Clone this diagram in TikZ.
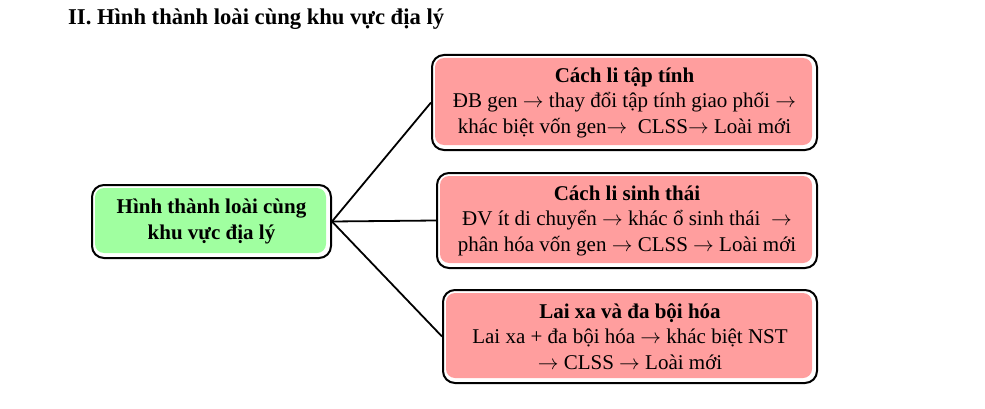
\documentclass[tikz,border=0pt]{standalone}
\usepackage{fontspec}
\setmainfont{Liberation Serif}
\usetikzlibrary{backgrounds}
\definecolor{boxpink}{RGB}{255,158,158}
\definecolor{boxgreen}{RGB}{160,255,160}
\newcommand{\ar}{\ensuremath{\rightarrow}}
\tikzset{
  outerbox/.style={draw=black, line width=2pt, rounded corners=12pt,
    align=center, inner sep=0pt, font=\fontsize{21}{25.5}\selectfont},
  conn/.style={draw=black, line width=1.8pt},
}
\begin{document}
\begin{tikzpicture}[x=1pt,y=1pt]
\useasboundingbox (0,0) rectangle (985,408);
\node[anchor=base west, font=\bfseries\fontsize{22.6}{26}\selectfont, inner sep=0pt] (title) at (68,383) {II. Hình thành loài cùng khu vực địa lý};

\node[outerbox, minimum width=239pt, minimum height=73pt] (g) at (211.5,186.5)
  {\textbf{Hình thành loài cùng}\\\textbf{khu vực địa lý}};
\node[outerbox, minimum width=385pt, minimum height=95pt] (b1) at (624.5,305.5)
  {\textbf{Cách li tập tính}\\ĐB gen \ar{} thay đổi tập tính giao phối \ar\\khác biệt vốn gen\ar\ \ CLSS\ar{} Loài mới};
\node[outerbox, minimum width=380pt, minimum height=95pt] (b2) at (627,187.5)
  {\textbf{Cách li sinh thái}\\ĐV ít di chuyển \ar{} khác ổ sinh thái\ \ \ar\\phân hóa vốn gen \ar{} CLSS \ar{} Loài mới};
\node[outerbox, minimum width=374pt, minimum height=93pt] (b3) at (630,71.5)
  {\textbf{Lai xa và đa bội hóa}\\Lai xa + đa bội hóa \ar{} khác biệt NST\\\ar{} CLSS \ar{} Loài mới};

\begin{scope}[on background layer]
  \fill[boxgreen, rounded corners=9pt] ([shift={(4pt,-4pt)}]g.north west) rectangle ([shift={(-6pt,6pt)}]g.south east);
  \foreach \b in {b1,b2,b3}{
    \fill[boxpink, rounded corners=9pt] ([shift={(4pt,-4pt)}]\b.north west) rectangle ([shift={(-6pt,6pt)}]\b.south east);
  }
\end{scope}

\draw[conn] (g.east) -- (b1.west);
\draw[conn] (g.east) -- (b2.west);
\draw[conn] (g.east) -- (b3.west);
\end{tikzpicture}
\end{document}
